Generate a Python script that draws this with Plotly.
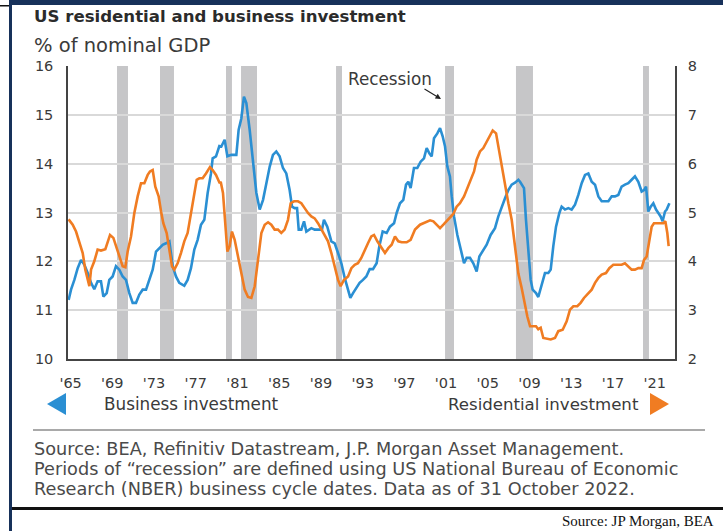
import plotly.graph_objects as go

# ---------------- data ----------------
business_years = [1965.06, 1965.29, 1965.61, 1965.93, 1966.25, 1966.57, 1966.89, 1967.21, 1967.52, 1967.84,
                  1968.16, 1968.39, 1968.71, 1968.96, 1969.28, 1969.60, 1969.92, 1970.24, 1970.56, 1970.88,
                  1971.20, 1971.52, 1971.84, 1972.16, 1972.48, 1972.80, 1973.12, 1973.44, 1973.76, 1974.08,
                  1974.40, 1974.72, 1975.04, 1975.35, 1975.67, 1976.15, 1976.47, 1976.79, 1977.11, 1977.43,
                  1977.75, 1978.07, 1978.39, 1978.71, 1978.87, 1979.19, 1979.51, 1979.70, 1980.02, 1980.28,
                  1980.66, 1981.14, 1981.36, 1981.62, 1981.87, 1982.10, 1982.42, 1982.74, 1983.06, 1983.38,
                  1983.70, 1984.02, 1984.34, 1984.65, 1984.97, 1985.29, 1985.61, 1985.93, 1986.25, 1986.48,
                  1986.73, 1986.96, 1987.12, 1987.37, 1987.63, 1987.85, 1988.33, 1988.65, 1989.13, 1989.35,
                  1989.54, 1989.86, 1990.25, 1990.57, 1990.89, 1991.21, 1991.53, 1991.85, 1992.07, 1992.33,
                  1992.64, 1992.96, 1993.28, 1993.60, 1993.92, 1994.24, 1994.59, 1994.85, 1995.17, 1995.55,
                  1995.87, 1996.26, 1996.51, 1996.83, 1997.15, 1997.41, 1997.63, 1997.85, 1998.17, 1998.49,
                  1998.81, 1999.13, 1999.39, 1999.64, 1999.87, 2000.09, 2000.41, 2000.67, 2000.92, 2001.15,
                  2001.37, 2001.62, 2001.79, 2002.01, 2002.33, 2002.65, 2002.97, 2003.22, 2003.54, 2003.86,
                  2004.18, 2004.44, 2004.82, 2005.14, 2005.52, 2005.94, 2006.26, 2006.58, 2006.90, 2007.22,
                  2007.54, 2007.86, 2008.18, 2008.34, 2008.50, 2008.72, 2008.91, 2009.14, 2009.36, 2009.55,
                  2009.87, 2010.09, 2010.41, 2010.73, 2011.05, 2011.28, 2011.53, 2011.79, 2012.11, 2012.33,
                  2012.65, 2012.97, 2013.29, 2013.61, 2013.93, 2014.25, 2014.57, 2014.89, 2015.21, 2015.53,
                  2015.85, 2016.17, 2016.49, 2016.81, 2017.13, 2017.44, 2017.76, 2018.08, 2018.40, 2018.72,
                  2019.04, 2019.36, 2019.68, 2020.00, 2020.23, 2020.42, 2020.64, 2020.87, 2021.12, 2021.38,
                  2021.60, 2021.82, 2022.01, 2022.24, 2022.40, 2022.66]
business_values = [11.21, 11.42, 11.62, 11.86, 12.03, 11.93, 11.76, 11.56, 11.43, 11.59,
                   11.59, 11.28, 11.35, 11.62, 11.69, 11.90, 11.83, 11.69, 11.62, 11.35,
                   11.15, 11.15, 11.32, 11.42, 11.42, 11.62, 11.83, 12.20, 12.27, 12.34,
                   12.37, 12.41, 11.90, 11.69, 11.56, 11.50, 11.62, 11.86, 12.24, 12.44,
                   12.75, 12.85, 13.40, 13.80, 14.11, 14.15, 14.36, 14.35, 14.49, 14.15,
                   14.18, 14.18, 14.69, 14.93, 15.37, 15.24, 14.69, 14.08, 13.40, 13.06,
                   13.26, 13.60, 13.94, 14.18, 14.25, 14.15, 13.91, 13.80, 13.46, 13.12,
                   13.09, 13.09, 12.65, 12.65, 12.82, 12.61, 12.68, 12.65, 12.65, 12.65,
                   12.85, 12.71, 12.41, 12.37, 12.17, 11.96, 11.66, 11.42, 11.25, 11.35,
                   11.45, 11.56, 11.62, 11.69, 11.84, 11.84, 11.96, 12.31, 12.61, 12.58,
                   12.71, 12.78, 12.99, 13.19, 13.26, 13.57, 13.63, 13.50, 13.91, 13.91,
                   14.04, 14.11, 14.32, 14.21, 14.15, 14.52, 14.62, 14.73, 14.56, 14.35,
                   13.94, 13.74, 13.33, 12.92, 12.54, 12.27, 11.96, 12.07, 12.07, 11.96,
                   11.79, 12.10, 12.24, 12.34, 12.54, 12.68, 12.92, 13.12, 13.29, 13.46,
                   13.57, 13.61, 13.67, 13.63, 13.57, 13.50, 12.85, 12.17, 11.62, 11.42,
                   11.35, 11.27, 11.49, 11.76, 11.76, 11.83, 12.31, 12.71, 12.99, 13.12,
                   13.06, 13.09, 13.06, 13.16, 13.36, 13.60, 13.77, 13.80, 13.63, 13.57,
                   13.33, 13.23, 13.23, 13.23, 13.33, 13.33, 13.36, 13.53, 13.57, 13.60,
                   13.67, 13.74, 13.63, 13.43, 13.46, 13.53, 13.02, 13.12, 13.19, 13.06,
                   12.99, 12.92, 12.82, 13.02, 13.06, 13.19]

residential_years = [1965.06, 1965.45, 1965.77, 1966.09, 1966.41, 1966.66, 1966.89, 1967.05, 1967.21, 1967.52,
                     1967.84, 1968.16, 1968.58, 1968.80, 1969.03, 1969.35, 1969.60, 1969.92, 1970.24, 1970.50,
                     1970.72, 1971.04, 1971.36, 1971.68, 1972.00, 1972.32, 1972.64, 1972.86, 1973.12, 1973.37,
                     1973.69, 1973.92, 1974.14, 1974.46, 1974.72, 1974.97, 1975.19, 1975.51, 1975.83, 1976.15,
                     1976.47, 1976.79, 1977.11, 1977.34, 1977.59, 1977.91, 1978.23, 1978.61, 1978.87, 1979.19,
                     1979.55, 1979.64, 1979.86, 1980.08, 1980.28, 1980.50, 1980.72, 1980.98, 1981.30, 1981.62,
                     1981.94, 1982.26, 1982.58, 1982.90, 1983.22, 1983.54, 1983.86, 1984.18, 1984.49, 1984.81,
                     1985.13, 1985.45, 1985.77, 1986.09, 1986.35, 1986.67, 1987.05, 1987.37, 1987.69, 1988.01,
                     1988.33, 1988.65, 1988.97, 1989.29, 1989.61, 1989.93, 1990.25, 1990.57, 1990.89, 1991.14,
                     1991.46, 1991.85, 1992.17, 1992.49, 1992.80, 1993.12, 1993.44, 1993.76, 1994.08, 1994.34,
                     1994.66, 1995.07, 1995.39, 1995.71, 1996.03, 1996.35, 1996.67, 1996.99, 1997.47, 1997.85,
                     1998.27, 1998.75, 1999.07, 1999.39, 1999.71, 2000.03, 2000.35, 2000.67, 2000.99, 2001.31,
                     2001.62, 2001.94, 2002.26, 2002.58, 2002.97, 2003.29, 2003.61, 2003.93, 2004.18, 2004.50,
                     2004.82, 2005.14, 2005.46, 2005.72, 2006.04, 2006.26, 2006.58, 2006.90, 2007.22, 2007.54,
                     2007.86, 2008.18, 2008.50, 2008.72, 2008.91, 2009.04, 2009.30, 2009.55, 2009.87, 2010.09,
                     2010.32, 2010.57, 2010.89, 2011.28, 2011.69, 2012.01, 2012.43, 2012.81, 2013.13, 2013.45,
                     2013.83, 2014.15, 2014.47, 2014.89, 2015.21, 2015.53, 2015.85, 2016.17, 2016.58, 2016.90,
                     2017.28, 2017.67, 2018.08, 2018.40, 2018.72, 2019.04, 2019.36, 2019.68, 2020.00, 2020.23,
                     2020.48, 2020.74, 2020.96, 2021.18, 2021.50, 2021.82, 2022.08, 2022.27, 2022.46, 2022.59]
residential_values = [4.86, 4.75, 4.61, 4.41, 4.17, 3.83, 3.59, 3.49, 3.83, 4.00,
                      4.24, 4.22, 4.25, 4.41, 4.54, 4.48, 4.31, 4.07, 3.90, 3.88,
                      4.20, 4.51, 4.99, 5.33, 5.60, 5.60, 5.77, 5.84, 5.87, 5.53,
                      5.33, 5.02, 4.78, 4.58, 4.24, 3.90, 3.83, 3.96, 4.17, 4.41,
                      4.58, 4.99, 5.33, 5.67, 5.70, 5.70, 5.80, 5.93, 5.87, 5.77,
                      5.60, 5.63, 5.40, 4.85, 4.20, 4.31, 4.61, 4.44, 4.10, 3.69,
                      3.42, 3.27, 3.25, 3.49, 4.10, 4.58, 4.75, 4.80, 4.75, 4.65,
                      4.65, 4.58, 4.65, 4.85, 5.19, 5.23, 5.23, 5.19, 5.09, 4.99,
                      4.92, 4.88, 4.78, 4.65, 4.51, 4.41, 4.17, 3.90, 3.62, 3.49,
                      3.62, 3.69, 3.86, 3.93, 3.96, 4.07, 4.24, 4.37, 4.51, 4.54,
                      4.41, 4.27, 4.17, 4.27, 4.34, 4.51, 4.41, 4.39, 4.39, 4.44,
                      4.65, 4.75, 4.78, 4.82, 4.84, 4.82, 4.75, 4.68, 4.75, 4.82,
                      4.91, 4.97, 5.12, 5.19, 5.33, 5.50, 5.67, 5.84, 6.08, 6.25,
                      6.32, 6.45, 6.59, 6.68, 6.62, 6.35, 5.94, 5.53, 5.19, 4.85,
                      4.31, 3.75, 3.45, 3.20, 3.00, 2.87, 2.67, 2.67, 2.67, 2.61,
                      2.64, 2.43, 2.41, 2.40, 2.43, 2.57, 2.60, 2.77, 3.01, 3.08,
                      3.08, 3.15, 3.25, 3.35, 3.42, 3.56, 3.66, 3.73, 3.76, 3.86,
                      3.93, 3.93, 3.93, 3.96, 3.90, 3.83, 3.83, 3.86, 3.86, 4.03,
                      4.10, 4.44, 4.71, 4.78, 4.78, 4.77, 4.78, 4.82, 4.58, 4.31]

recession_starts = [1969.70, 1973.82, 1980.15, 1981.59, 1990.70, 2001.15, 2007.95, 2020.13]
recession_ends = [1970.75, 1975.16, 1980.72, 1983.12, 1991.27, 2002.01, 2009.58, 2020.70]

tick_years = [1965, 1969, 1973, 1977, 1981, 1985, 1989, 1993, 1997, 2001, 2005, 2009, 2013, 2017, 2021]
tick_labels = ["'65", "'69", "'73", "'77", "'81", "'85", "'89", "'93", "'97", "'01", "'05", "'09", "'13", "'17", "'21"]
left_ticks = [10, 11, 12, 13, 14, 15, 16]
right_ticks = [2, 3, 4, 5, 6, 7, 8]

source_lines = [
    "Source: BEA, Refinitiv Datastream, J.P. Morgan Asset Management.",
    "Periods of \u201crecession\u201d are defined using US National Bureau of Economic",
    "Research (NBER) business cycle dates. Data as of 31 October 2022.",
]

# ---------------- styling ----------------
BLUE = "#2a8fd3"
ORANGE = "#f07c22"
BAND = "#c6c6c8"
GRID = "#d9d9d9"
TXT = "#3a3a3a"
FONT = "DejaVu Sans"
NAVY = "#17315a"

W, H = 723, 531
L, R, T, B = 68, 675, 66, 359


def pxx(x):
    return (x - L) / (R - L)


def pxy(y):
    return (B - y) / (B - T)


fig = go.Figure()
fig.add_trace(go.Scatter(x=business_years, y=business_values, mode="lines",
                         line=dict(color=BLUE, width=2.6), name="Business investment",
                         showlegend=False, yaxis="y"))
fig.add_trace(go.Scatter(x=residential_years, y=residential_values, mode="lines",
                         line=dict(color=ORANGE, width=2.6), name="Residential investment",
                         showlegend=False, yaxis="y2"))

shapes = []
for s, e in zip(recession_starts, recession_ends):
    shapes.append(dict(type="rect", xref="x", yref="paper", x0=s, x1=e, y0=0, y1=1,
                       fillcolor=BAND, line=dict(width=0), layer="between"))

# frame / decoration
shapes += [
    dict(type="rect", xref="paper", yref="paper", x0=pxx(10), x1=pxx(W), y0=pxy(0), y1=pxy(5),
         fillcolor=NAVY, line=dict(width=0), layer="above"),
    dict(type="rect", xref="paper", yref="paper", x0=pxx(9), x1=pxx(12), y0=pxy(0), y1=pxy(H),
         fillcolor=NAVY, line=dict(width=0), layer="above"),
    dict(type="rect", xref="paper", yref="paper", x0=pxx(0), x1=pxx(9), y0=pxy(5), y1=pxy(6.5),
         fillcolor="#111111", line=dict(width=0), layer="above"),
    dict(type="rect", xref="paper", yref="paper", x0=pxx(12), x1=pxx(W), y0=pxy(507), y1=pxy(510),
         fillcolor="#111111", line=dict(width=0), layer="above"),
    dict(type="line", xref="paper", yref="paper", x0=pxx(33), x1=pxx(705), y0=pxy(430), y1=pxy(430),
         line=dict(color="#555555", width=1.2), layer="above"),
    # legend triangles
    dict(type="path", xref="paper", yref="paper",
         path=f"M {pxx(47)},{pxy(404)} L {pxx(66)},{pxy(393)} L {pxx(66)},{pxy(415)} Z",
         fillcolor=BLUE, line=dict(width=0), layer="above"),
    dict(type="path", xref="paper", yref="paper",
         path=f"M {pxx(669)},{pxy(404)} L {pxx(650)},{pxy(393)} L {pxx(650)},{pxy(415)} Z",
         fillcolor=ORANGE, line=dict(width=0), layer="above"),
]

annotations = [
    dict(text="US residential and business investment", x=pxx(32), y=pxy(17), xref="paper", yref="paper",
         xanchor="left", yanchor="middle", showarrow=False,
         font=dict(family=FONT, size=16.6, color="#2b2b2b", weight=600)),
    dict(text="% of nominal GDP", x=pxx(32), y=pxy(45), xref="paper", yref="paper",
         xanchor="left", yanchor="middle", showarrow=False,
         font=dict(family=FONT, size=19.5, color=TXT)),
    dict(text="Recession", x=pxx(346), y=pxy(79), xref="paper", yref="paper",
         xanchor="left", yanchor="middle", showarrow=False,
         font=dict(family=FONT, size=16.8, color=TXT)),
    dict(text="", x=pxx(441), y=pxy(99), xref="paper", yref="paper",
         ax=-18, ay=-11, showarrow=True, arrowhead=2, arrowsize=1, arrowwidth=1.1, arrowcolor="#222222"),
    dict(text="Business investment", x=pxx(102), y=pxy(404), xref="paper", yref="paper",
         xanchor="left", yanchor="middle", showarrow=False,
         font=dict(family=FONT, size=16.8, color=TXT)),
    dict(text="Residential investment", x=pxx(641), y=pxy(404), xref="paper", yref="paper",
         xanchor="right", yanchor="middle", showarrow=False,
         font=dict(family=FONT, size=16.6, color=TXT)),
    dict(text="Source: JP Morgan, BEA", x=pxx(716), y=pxy(521), xref="paper", yref="paper",
         xanchor="right", yanchor="middle", showarrow=False,
         font=dict(family="Liberation Serif", size=15, color="#111111")),
]
for i, line in enumerate(source_lines):
    annotations.append(dict(text=line, x=pxx(32), y=pxy(449 + 20 * i), xref="paper", yref="paper",
                            xanchor="left", yanchor="middle", showarrow=False,
                            font=dict(family=FONT, size=17.7, color="#4a4a4a")))

fig.update_layout(
    width=W, height=H,
    margin=dict(l=L, r=W - R, t=T, b=H - B, pad=0),
    paper_bgcolor="white", plot_bgcolor="white",
    showlegend=False,
    font=dict(family=FONT, color=TXT, size=15),
    xaxis=dict(range=[1965.0, 1965.0 + (R - L) / 10.43], tickvals=[y + 0.25 for y in tick_years],
               ticktext=tick_labels, showgrid=False, zeroline=False, showline=True,
               linecolor="#444444", linewidth=1.5, ticks="", ticklabelstandoff=10,
               tickfont=dict(family=FONT, size=14.5, color=TXT)),
    yaxis=dict(range=[10, 16], tickvals=left_ticks, showgrid=True, gridcolor=GRID, gridwidth=1.5,
               zeroline=False, showline=True, linecolor="#444444", linewidth=1.5, ticks="",
               ticklabelstandoff=10, tickfont=dict(family=FONT, size=14.5, color=TXT)),
    yaxis2=dict(range=[2, 8], tickvals=right_ticks, overlaying="y", side="right", showgrid=False,
                zeroline=False, showline=True, linecolor="#444444", linewidth=1.5, ticks="",
                ticklabelstandoff=8, tickfont=dict(family=FONT, size=14.5, color=TXT)),
    shapes=shapes,
    annotations=annotations,
)

fig.write_html("out.html", config={"displayModeBar": False},
               post_script="document.body.style.margin='0';document.body.style.overflow='hidden';")
